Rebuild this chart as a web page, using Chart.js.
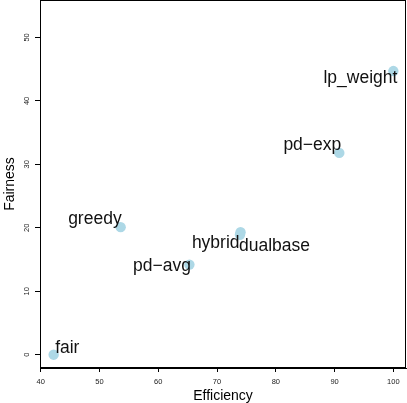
<!DOCTYPE html>
<html>
<head>
<meta charset="utf-8">
<script src="https://cdn.jsdelivr.net/npm/chart.js@4/dist/chart.umd.min.js"></script>
<style>
  html, body { margin: 0; padding: 0; background: #fff; }
  canvas { display: block; }
</style>
</head>
<body>
<canvas id="c" width="407" height="403"></canvas>
<script>
// ---- data ----
const methods    = ["lp_weight", "pd\u2212exp", "greedy", "hybrid", "dualbase", "pd\u2212avg", "fair"];
const efficiency = [100.0, 90.8, 53.6, 74.0, 73.9, 65.3, 42.2];
const fairness   = [44.7, 31.8, 20.1, 19.3, 18.9, 14.2, 0.0];
const xTicks = [40, 50, 60, 70, 80, 90, 100];
const yTicks = [0, 10, 20, 30, 40, 50];

// ---- label placement (styling, not data) ----
const labelPlacement = {
  "lp_weight": { align: "right", dx: 4,   dy: 11.5 },
  "pd\u2212exp":  { align: "right", dx: 2,   dy: -2.5 },
  "greedy":    { align: "right", dx: 1,   dy: -3.5 },
  "hybrid":    { align: "right", dx: -1,  dy: 16 },
  "dualbase":  { align: "left",  dx: -1,  dy: 16 },
  "pd\u2212avg":  { align: "right", dx: 1.5, dy: 6 },
  "fair":      { align: "left",  dx: 1.5, dy: -2 }
};

const FONT = "'Liberation Sans', Arial, Helvetica, sans-serif";

const points = efficiency.map((x, i) => ({ x: x, y: fairness[i] }));

function zeroPad(s) { s.paddingLeft = 0; s.paddingRight = 0; s.paddingTop = 0; s.paddingBottom = 0; }

const decor = {
  id: 'decor',
  afterDraw(chart) {
    const ctx = chart.ctx;
    const a = chart.chartArea;
    const xs = chart.scales.x, ys = chart.scales.y;
    ctx.save();
    // box
    ctx.strokeStyle = '#000';
    ctx.lineWidth = 1;
    ctx.strokeRect(Math.round(a.left) + 0.5, Math.round(a.top) + 0.5,
                   Math.round(a.right - a.left) - 1, Math.round(a.bottom - a.top) - 1);
    // y tick labels (rotated)
    ctx.fillStyle = '#222';
    ctx.font = '7.5px ' + FONT;
    ctx.textAlign = 'center';
    ctx.textBaseline = 'middle';
    yTicks.forEach(v => {
      const y = ys.getPixelForValue(v);
      ctx.save();
      ctx.translate(27, y);
      ctx.rotate(-Math.PI / 2);
      ctx.fillText(String(v), 0, 0);
      ctx.restore();
    });
    // axis titles
    ctx.fillStyle = '#000';
    ctx.font = '14px ' + FONT;
    ctx.textAlign = 'center';
    ctx.textBaseline = 'alphabetic';
    ctx.fillText('Efficiency', (a.left + a.right) / 2, 400);
    ctx.save();
    ctx.translate(14, (a.top + a.bottom) / 2);
    ctx.rotate(-Math.PI / 2);
    ctx.fillText('Fairness', 0, 0);
    ctx.restore();
    // point labels
    ctx.font = '17.5px ' + FONT;
    ctx.fillStyle = '#111';
    ctx.textBaseline = 'alphabetic';
    methods.forEach((m, i) => {
      const p = labelPlacement[m];
      const px = xs.getPixelForValue(efficiency[i]);
      const py = ys.getPixelForValue(fairness[i]);
      ctx.textAlign = p.align;
      ctx.fillText(m, px + p.dx, py + p.dy);
    });
    ctx.restore();
  }
};

new Chart(document.getElementById('c'), {
  type: 'scatter',
  data: {
    datasets: [{
      data: points,
      backgroundColor: '#ADD8E6',
      borderWidth: 0,
      pointRadius: 5.2,
      pointHoverRadius: 5.2,
      clip: false
    }]
  },
  options: {
    responsive: false,
    animation: false,
    devicePixelRatio: 1,
    layout: { autoPadding: false, padding: { top: 0, right: 1, left: 0, bottom: 0 } },
    plugins: { legend: { display: false }, tooltip: { enabled: false } },
    scales: {
      x: {
        type: 'linear',
        min: 39.88, max: 102.15,
        afterBuildTicks(s) { s.ticks = xTicks.map(v => ({ value: v })); },
        afterFit(s) { s.height = 35; zeroPad(s); },
        grid: { display: true, drawOnChartArea: false, drawTicks: true, tickLength: 4, color: '#000', lineWidth: 1 },
        border: { display: true, color: '#000', width: 1 },
        ticks: { color: '#222', font: { size: 7.5, family: FONT }, padding: 5, maxRotation: 0, minRotation: 0, autoSkip: false }
      },
      y: {
        type: 'linear',
        min: -2.1, max: 55.9,
        afterBuildTicks(s) { s.ticks = yTicks.map(v => ({ value: v })); },
        afterFit(s) { s.width = 40; zeroPad(s); },
        grid: { display: true, drawOnChartArea: false, drawTicks: true, tickLength: 5, color: '#000', lineWidth: 1 },
        border: { display: true, color: '#000', width: 1 },
        ticks: { display: false }
      }
    }
  },
  plugins: [decor]
});
</script>
</body>
</html>
